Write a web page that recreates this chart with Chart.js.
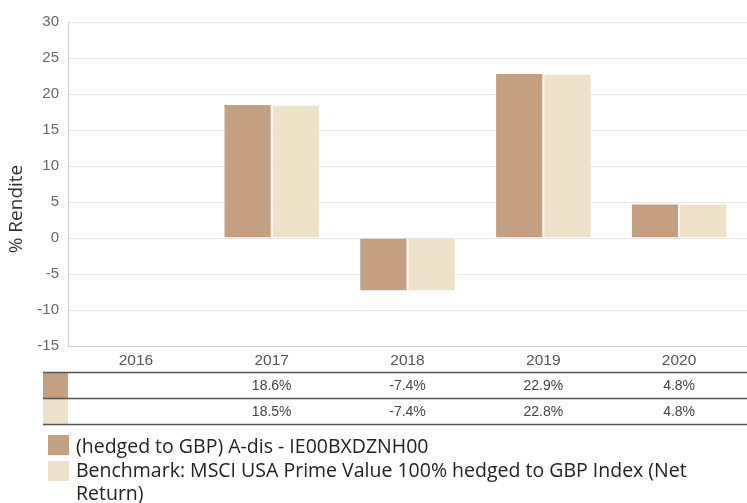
<!DOCTYPE html>
<html>
<head>
<meta charset="utf-8">
<script src="https://cdn.jsdelivr.net/npm/chart.js@4/dist/chart.umd.min.js"></script>
<style>
  html, body { margin: 0; padding: 0; background: #fff; }
  #wrap { width: 747px; height: 503px; position: relative; }
</style>
</head>
<body>
<div id="wrap"><canvas id="perfChart" width="747" height="503"></canvas></div>
<script>
const years = ['2016', '2017', '2018', '2019', '2020'];
const fundValues = [null, 18.6, -7.4, 22.9, 4.8];
const benchValues = [null, 18.5, -7.4, 22.8, 4.8];
const fundLabel = '(hedged to GBP) A-dis - IE00BXDZNH00';
const benchLabel = 'Benchmark: MSCI USA Prime Value 100% hedged to GBP Index (Net';
const benchLabel2 = 'Return)';
const yTitle = '% Rendite';

const fundColor = '#c4a081';
const benchColor = '#ede1c7';

// table under the x axis, legend and y title, drawn after the chart
const tablePlugin = {
    id: 'tableLegend',
    afterDraw(chart) {
        const ctx = chart.ctx;
        const x = chart.scales.x;
        const rows = [
            { color: fundColor, vals: fundValues, top: 373 },
            { color: benchColor, vals: benchValues, top: 399 }
        ];
        ctx.save();
        rows.forEach(r => {
            ctx.fillStyle = r.color;
            ctx.fillRect(43, r.top, 25, 25);
            ctx.fillStyle = '#444';
            ctx.font = '14px "Liberation Sans", Arial, sans-serif';
            ctx.textAlign = 'center';
            ctx.textBaseline = 'middle';
            r.vals.forEach((v, i) => {
                if (v === null) return;
                ctx.fillText(v.toFixed(1) + '%', x.getPixelForValue(i), r.top + 13);
            });
        });
        ctx.strokeStyle = '#555';
        ctx.lineWidth = 1.5;
        [372.5, 398.5, 424.5].forEach(y => {
            ctx.beginPath();
            ctx.moveTo(43, y);
            ctx.lineTo(747, y);
            ctx.stroke();
        });

        // legend
        ctx.textAlign = 'left';
        ctx.textBaseline = 'middle';
        ctx.font = '19.5px "Open Sans", sans-serif';
        ctx.fillStyle = fundColor;
        ctx.fillRect(48, 435, 21, 20);
        ctx.fillStyle = benchColor;
        ctx.fillRect(48, 461, 21, 20);
        ctx.fillStyle = '#222';
        ctx.fillText(fundLabel, 76, 447, 362);
        ctx.fillText(benchLabel, 76, 471, 625);
        ctx.fillText(benchLabel2, 76, 494);

        // y axis title
        ctx.translate(17, 209);
        ctx.rotate(-Math.PI / 2);
        ctx.textAlign = 'center';
        ctx.fillStyle = '#333';
        ctx.font = '19px "Open Sans", sans-serif';
        ctx.fillText(yTitle, 0, 0);
        ctx.restore();
    }
};

function renderChart() {
    const ctx = document.getElementById('perfChart').getContext('2d');
    new Chart(ctx, {
        type: 'bar',
        data: {
            labels: years,
            datasets: [
                {
                    label: fundLabel,
                    data: fundValues,
                    backgroundColor: fundColor,
                    borderColor: 'rgba(255,255,255,0.35)',
                    borderWidth: 1
                },
                {
                    label: benchLabel + ' ' + benchLabel2,
                    data: benchValues,
                    backgroundColor: benchColor,
                    borderColor: 'rgba(255,255,255,0.35)',
                    borderWidth: 1
                }
            ]
        },
        options: {
            responsive: false,
            animation: false,
            layout: { padding: { top: 22, right: 0, bottom: 0, left: 0 } },
            plugins: {
                legend: { display: false },
                tooltip: { enabled: false }
            },
            datasets: { bar: { categoryPercentage: 0.71, barPercentage: 1.0 } },
            scales: {
                x: {
                    grid: { display: false, drawTicks: false },
                    border: { display: true, color: '#ccc' },
                    ticks: {
                        color: '#555',
                        font: { family: '"Liberation Sans", Arial, sans-serif', size: 15.5 },
                        padding: 5,
                        maxRotation: 0
                    },
                    afterFit(scale) { scale.height = 157; }
                },
                y: {
                    min: -15,
                    max: 30,
                    ticks: {
                        stepSize: 5,
                        color: '#666',
                        font: { family: '"Liberation Sans", Arial, sans-serif', size: 15 },
                        padding: 9
                    },
                    grid: { color: '#e6e6e6', drawTicks: false },
                    border: { color: '#ccc' },
                    afterFit(scale) { scale.width = 68; }
                }
            }
        },
        plugins: [tablePlugin]
    });
}

window.onload = renderChart;
</script>
</body>
</html>
